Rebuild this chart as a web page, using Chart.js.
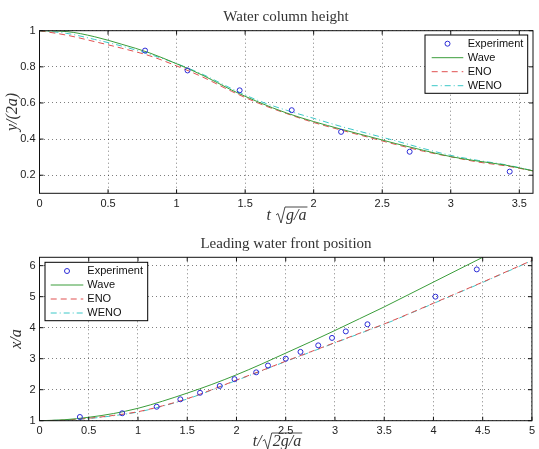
<!DOCTYPE html>
<html>
<head>
<meta charset="utf-8">
<script src="https://cdn.jsdelivr.net/npm/chart.js@4/dist/chart.umd.min.js"></script>
<style>
body { margin: 0; background: #fff; width: 539px; height: 449px; overflow: hidden; position: relative; }
#topChart { position: absolute; left: 0; top: 0; }
#botChart { position: absolute; left: 0; top: 224px; }
</style>
</head>
<body>
<canvas id="topChart" width="539" height="224"></canvas>
<canvas id="botChart" width="539" height="225"></canvas>
<script>
// ---- water column height (top) ----
const topExpX  = [0.77, 1.08, 1.46, 1.84, 2.20, 2.70, 3.43];
const topExpY  = [0.89, 0.78, 0.67, 0.56, 0.44, 0.33, 0.22];
const topSimX  = [0, 0.2, 0.4, 0.6, 0.8, 1.0, 1.2, 1.4, 1.6, 1.8, 2.0, 2.2, 2.4, 2.6, 2.8, 3.0, 3.2, 3.4, 3.6];
const topWave  = [1.000, 0.995, 0.967, 0.925, 0.878, 0.817, 0.750, 0.672, 0.604, 0.545, 0.497, 0.455, 0.415, 0.375, 0.338, 0.303, 0.278, 0.256, 0.224];
const topEno   = [1.000, 0.975, 0.940, 0.903, 0.862, 0.805, 0.740, 0.665, 0.598, 0.542, 0.492, 0.450, 0.410, 0.370, 0.333, 0.302, 0.273, 0.252, 0.224];
const topWeno  = [1.000, 0.985, 0.952, 0.915, 0.870, 0.818, 0.755, 0.680, 0.612, 0.560, 0.515, 0.470, 0.430, 0.390, 0.348, 0.310, 0.282, 0.258, 0.225];
const topXTicks = [0, 0.5, 1, 1.5, 2, 2.5, 3, 3.5];
const topYTicks = [0.2, 0.4, 0.6, 0.8, 1];

// ---- leading water front position (bottom) ----
const botExpX  = [0.41, 0.84, 1.19, 1.43, 1.63, 1.83, 1.98, 2.20, 2.32, 2.50, 2.65, 2.83, 2.97, 3.11, 3.33, 4.02, 4.44];
const botExpY  = [1.12, 1.24, 1.45, 1.69, 1.90, 2.12, 2.34, 2.56, 2.78, 3.00, 3.22, 3.43, 3.67, 3.88, 4.11, 5.00, 5.88];
const botWaveX = [0, 0.25, 0.5, 0.75, 1, 1.25, 1.5, 1.75, 2, 2.25, 2.5, 2.75, 3, 3.25, 3.5, 3.75, 4, 4.25, 4.5];
const botWave  = [1.00, 1.03, 1.11, 1.23, 1.40, 1.63, 1.89, 2.17, 2.48, 2.82, 3.18, 3.54, 3.91, 4.29, 4.67, 5.07, 5.47, 5.87, 6.27];
const botSimX  = [0, 0.25, 0.5, 0.75, 1, 1.25, 1.5, 1.75, 2, 2.25, 2.5, 2.75, 3, 3.25, 3.5, 3.75, 4, 4.25, 4.5, 4.75, 5];
const botEno   = [1.00, 1.02, 1.08, 1.17, 1.29, 1.48, 1.71, 2.00, 2.31, 2.61, 2.92, 3.22, 3.52, 3.82, 4.12, 4.45, 4.79, 5.13, 5.47, 5.82, 6.17];
const botWeno  = [1.00, 1.02, 1.07, 1.16, 1.28, 1.47, 1.70, 1.99, 2.30, 2.60, 2.91, 3.21, 3.51, 3.81, 4.11, 4.44, 4.78, 5.12, 5.46, 5.81, 6.16];
const botXTicks = [0, 0.5, 1, 1.5, 2, 2.5, 3, 3.5, 4, 4.5, 5];
const botYTicks = [1, 2, 3, 4, 5, 6];

const pts = (xs, ys) => xs.map((x, i) => ({x: x, y: ys[i]}));

const BLUE = '#2b2bd6', GREEN = '#3a9d3a', RED = '#e05050', CYAN = '#3cc8c8';
const TXT = '#333';

function makeSets(ex, ey, wx, wy, sx, eno, weno) {
    return [
        {label: 'Experiment', data: pts(ex, ey), showLine: false, pointRadius: 2.5,
         pointBorderColor: BLUE, pointBackgroundColor: 'rgba(0,0,0,0)', pointBorderWidth: 1, borderColor: BLUE},
        {label: 'Wave', data: pts(wx, wy), showLine: true, pointRadius: 0, borderColor: GREEN, borderWidth: 1,
         cubicInterpolationMode: 'monotone'},
        {label: 'ENO', data: pts(sx, eno), showLine: true, pointRadius: 0, borderColor: RED, borderWidth: 1,
         borderDash: [6, 4], cubicInterpolationMode: 'monotone'},
        {label: 'WENO', data: pts(sx, weno), showLine: true, pointRadius: 0, borderColor: CYAN, borderWidth: 1,
         borderDash: [6, 3, 1, 3], cubicInterpolationMode: 'monotone'}
    ];
}

// label with a square root drawn over the inner part
function sqrtLabel(ctx, cx, cy, pre, inner) {
    ctx.font = 'italic 16px "Liberation Serif"';
    const wp = ctx.measureText(pre).width;
    const wi = ctx.measureText(inner).width;
    const wr = 11;
    let x = cx - (wp + wr + wi) / 2;
    const base = cy + 5;
    ctx.textAlign = 'left';
    ctx.textBaseline = 'alphabetic';
    ctx.fillText(pre, x, base);
    x += wp;
    ctx.beginPath();
    ctx.moveTo(x + 1, base - 5);
    ctx.lineTo(x + 3, base - 6.5);
    ctx.lineTo(x + 6, base + 3);
    ctx.lineTo(x + 10, base - 13);
    ctx.lineTo(x + wr + wi + 1, base - 13);
    ctx.stroke();
    ctx.fillText(inner, x + wr, base);
}

const framePlugin = {
    id: 'frame',
    afterDraw(chart) {
        const o = chart.options.plugins.frame;
        const {ctx, chartArea: a, scales: {x, y}} = chart;
        ctx.save();
        // box + inward ticks
        ctx.strokeStyle = '#111';
        ctx.lineWidth = 1;
        ctx.strokeRect(a.left, a.top, a.right - a.left, a.bottom - a.top);
        ctx.beginPath();
        x.ticks.forEach(t => {
            const px = x.getPixelForValue(t.value);
            ctx.moveTo(px, a.bottom); ctx.lineTo(px, a.bottom - 4);
            ctx.moveTo(px, a.top); ctx.lineTo(px, a.top + 4);
        });
        y.ticks.forEach(t => {
            const py = y.getPixelForValue(t.value);
            ctx.moveTo(a.left, py); ctx.lineTo(a.left + 4, py);
            ctx.moveTo(a.right, py); ctx.lineTo(a.right - 4, py);
        });
        ctx.stroke();

        // legend
        const L = o.legend;
        ctx.fillStyle = '#fff';
        ctx.fillRect(L.x, L.y, L.w, L.h);
        ctx.strokeStyle = '#000';
        ctx.strokeRect(L.x, L.y, L.w, L.h);
        ctx.font = '11px "Liberation Sans"';
        ctx.textAlign = 'left';
        ctx.textBaseline = 'middle';
        chart.data.datasets.forEach((ds, i) => {
            const ry = L.y + 8.7 + i * 14;
            if (ds.showLine === false) {
                ctx.beginPath();
                ctx.strokeStyle = ds.pointBorderColor;
                ctx.setLineDash([]);
                ctx.arc((L.s0 + L.s1) / 2, ry, 2.5, 0, Math.PI * 2);
                ctx.stroke();
            } else {
                ctx.beginPath();
                ctx.strokeStyle = ds.borderColor;
                ctx.setLineDash(ds.borderDash || []);
                ctx.moveTo(L.s0, ry); ctx.lineTo(L.s1, ry);
                ctx.stroke();
            }
            ctx.setLineDash([]);
            ctx.fillStyle = '#111';
            ctx.fillText(ds.label, L.tx, ry);
        });

        // title
        ctx.fillStyle = TXT;
        ctx.strokeStyle = TXT;
        ctx.font = '15px "Liberation Serif"';
        ctx.textAlign = 'center';
        ctx.fillText(o.title, o.titleX, o.titleY);

        // y label (rotated)
        ctx.save();
        ctx.translate(o.yLabX, o.yLabY);
        ctx.rotate(-Math.PI / 2);
        ctx.font = 'italic 16px "Liberation Serif"';
        ctx.textAlign = 'center';
        ctx.textBaseline = 'middle';
        ctx.fillText(o.yLabel, 0, 0);
        ctx.restore();

        // x label with radical
        ctx.lineWidth = 0.9;
        sqrtLabel(ctx, o.xLabX, o.xLabY, o.xPre, o.xInner);
        ctx.restore();
    }
};

const fmt = v => String(Math.round(v * 100) / 100);

function axes(xMin, xMax, xTicks, yMin, yMax, yTicks, xH) {
    const grid = {color: 'rgba(0,0,0,0.5)', lineWidth: 1, drawTicks: false};
    const border = {display: false, dash: [1, 3]};
    const font = {family: '"Liberation Sans"', size: 11};
    return {
        x: {type: 'linear', min: xMin, max: xMax, grid: grid, border: border,
            ticks: {font: font, color: '#222', padding: 4, maxRotation: 0, autoSkip: false, callback: fmt},
            afterBuildTicks: s => { s.ticks = xTicks.map(v => ({value: v})); },
            afterFit: s => { s.height = xH; }},
        y: {type: 'linear', min: yMin, max: yMax, grid: grid, border: border,
            ticks: {font: font, color: '#222', padding: 4, callback: fmt},
            afterBuildTicks: s => { s.ticks = yTicks.map(v => ({value: v})); },
            afterFit: s => { s.width = 39.5; }}
    };
}

new Chart(document.getElementById('topChart'), {
    type: 'scatter',
    data: {datasets: makeSets(topExpX, topExpY, topSimX, topWave, topSimX, topEno, topWeno)},
    options: {
        responsive: false, animation: false, events: [],
        layout: {padding: {top: 30.7, right: 6, left: 0, bottom: 0}},
        scales: axes(0, 3.6, topXTicks, 0.1, 1, topYTicks, 30.7),
        plugins: {
            legend: {display: false}, tooltip: {enabled: false},
            frame: {
                legend: {x: 425, y: 35, w: 102.7, h: 58.3, s0: 431.7, s1: 463.3, tx: 467.7},
                title: 'Water column height', titleX: 286, titleY: 17,
                yLabel: 'y/(2a)', yLabX: 13, yLabY: 112,
                xPre: 't ', xInner: 'g/a', xLabX: 286.5, xLabY: 215
            }
        }
    },
    plugins: [framePlugin]
});

new Chart(document.getElementById('botChart'), {
    type: 'scatter',
    data: {datasets: makeSets(botExpX, botExpY, botWaveX, botWave, botSimX, botEno, botWeno)},
    options: {
        responsive: false, animation: false, events: [],
        layout: {padding: {top: 33.3, right: 5.7, left: 0, bottom: 0}},
        scales: axes(0, 5, botXTicks, 1, 6.27, botYTicks, 28.3),
        plugins: {
            legend: {display: false}, tooltip: {enabled: false},
            frame: {
                legend: {x: 45, y: 38.3, w: 102.7, h: 58.4, s0: 50.7, s1: 83.3, tx: 87.3},
                title: 'Leading water front position', titleX: 286, titleY: 20,
                yLabel: 'x/a', yLabX: 17, yLabY: 115,
                xPre: 't/', xInner: '2g/a', xLabX: 277, xLabY: 217
            }
        }
    },
    plugins: [framePlugin]
});
</script>
</body>
</html>
